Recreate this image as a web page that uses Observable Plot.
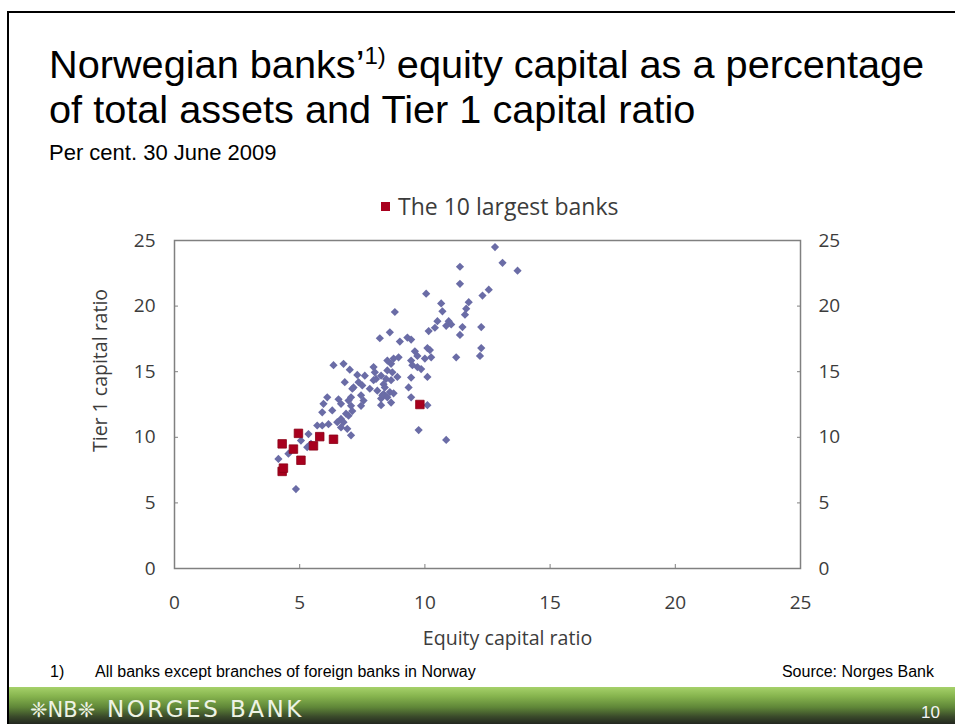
<!DOCTYPE html>
<html>
<head>
<meta charset="utf-8">
<script src="https://cdn.jsdelivr.net/npm/d3@7"></script>
<script src="https://cdn.jsdelivr.net/npm/@observablehq/plot@0.6"></script>
<style>
html, body { margin: 0; padding: 0; background: #fff; }
#page { position: relative; width: 955px; height: 724px; overflow: hidden; background: #fff; font-family: "Liberation Sans", Arial, sans-serif; color: #000; }
.abs { position: absolute; white-space: nowrap; }
#borderL { left: 7px; top: 11px; width: 2px; height: 713px; background: #000; }
#borderT { left: 7px; top: 11px; width: 948px; height: 2px; background: #000; }
#t1, #t2 { left: 49px; font-size: 39.7px; line-height: 39.7px; }
#t1 { top: 44.5px; }
#t2 { top: 89.5px; }
#sub { left: 49px; top: 142px; font-size: 22px; line-height: 22px; }
#legend { left: 381px; top: 193px; font-family: "Open Sans", sans-serif; font-size: 23px; line-height: 26px; color: #3c3c3c; }
#legend .sw { display: inline-block; width: 9px; height: 9px; background: #a8001e; margin-right: 8px; vertical-align: 4px; }
#chart { left: 0px; top: 190px; }
#foot1 { left: 50px; top: 664px; font-size: 16px; line-height: 16px; }
#foot1 span { display: inline-block; width: 45px; }
#source { right: 21px; top: 664px; font-size: 16px; line-height: 16px; }
#band { left: 9px; top: 687px; width: 946px; height: 37px; background: linear-gradient(#a6d16a 0%, #86b44e 25%, #5f8638 55%, #3a4a2a 80%, #23271f 100%); }
#brand { left: 30px; top: 696px; font-family: "DejaVu Sans", sans-serif; font-size: 23px; line-height: 26px; letter-spacing: 2.5px; color: #eef3e4; }
#brand .logo { display: inline-block; width: 77px; letter-spacing: 0; font-size: 21px; }
#pnum { left: 921px; top: 704px; font-size: 17px; line-height: 17px; color: #f4f4f4; }
</style>
</head>
<body>
<div id="page">
  <div class="abs" id="borderT"></div>
  <div class="abs" id="t1">Norwegian banks’<span style="font-size:24px;position:relative;top:-14px;">1)</span> equity capital as a percentage</div>
  <div class="abs" id="t2">of total assets and Tier 1 capital ratio</div>
  <div class="abs" id="sub">Per cent. 30 June 2009</div>
  <div class="abs" id="legend"><span class="sw"></span>The 10 largest banks</div>
  <div class="abs" id="chart"></div>
  <div class="abs" id="foot1"><span>1)</span>All banks except branches of foreign banks in Norway</div>
  <div class="abs" id="source">Source: Norges Bank</div>
  <div class="abs" id="band"></div>
  <div class="abs" id="brand"><span class="logo">❈NB❈</span>NORGES BANK</div>
  <div class="abs" id="pnum">10</div>
  <div class="abs" id="borderL"></div>
</div>
<script>
// Tick values
const xTicks = [0, 5, 10, 15, 20, 25];
const yTicks = [0, 5, 10, 15, 20, 25];
const xLabel = "Equity capital ratio";
const yLabel = "Tier 1 capital ratio";

// Other banks: equity capital ratio (x) and Tier 1 capital ratio (y)
const otherEquity = [12.8, 13.1, 13.7, 11.4, 11.4, 12.55, 12.3, 10.05, 11.75, 10.65,
  11.65, 10.7, 11.6, 8.8, 10.5, 10.95, 11.05, 10.85, 10.4, 10.15,
  11.5, 12.25, 11.4, 8.6, 8.2, 9.0, 9.3, 9.45, 10.1, 10.2,
  12.25, 10.25, 11.25, 12.2, 9.6, 9.7, 10.0, 8.5, 8.75, 8.95,
  9.45, 9.5, 9.7, 9.85, 6.35, 6.75, 7.0, 7.3, 7.6, 7.95,
  8.0, 8.25, 8.5, 8.7, 8.65, 7.95, 8.05, 8.35, 8.45, 8.65,
  8.9, 9.45, 10.1, 6.8, 7.35, 7.15, 7.5, 7.8, 8.1, 8.35,
  8.6, 8.75, 9.35, 7.05, 8.25, 8.5, 8.65, 9.45, 10.1, 8.25,
  7.55, 7.45, 6.95, 7.05, 7.1, 6.55, 6.1, 5.95, 5.9, 6.3,
  6.65, 6.95, 6.75, 6.5, 6.15, 5.9, 5.7, 6.65, 6.9, 7.05,
  5.35, 5.05, 5.45, 5.3, 4.55, 4.15, 4.85, 9.75, 10.85, 8.3,
  8.4, 7.1, 6.65, 6.85, 7.45];
const otherTier1 = [24.5, 23.3, 22.7, 23.0, 21.7, 21.25, 20.8, 20.95, 20.3, 20.2,
  19.8, 19.6, 19.35, 19.55, 18.85, 18.85, 18.6, 18.5, 18.35, 18.1,
  18.4, 18.4, 17.8, 18.0, 17.55, 17.3, 17.6, 17.45, 16.8, 16.65,
  16.8, 16.1, 16.1, 16.2, 16.55, 16.2, 16.0, 15.85, 16.0, 16.1,
  15.85, 15.5, 15.35, 15.2, 15.5, 15.6, 15.15, 14.75, 14.7, 15.35,
  14.95, 14.7, 15.1, 14.95, 15.6, 14.35, 14.45, 14.05, 14.45, 14.35,
  14.6, 14.55, 14.6, 14.2, 14.2, 13.8, 13.95, 13.7, 13.55, 13.3,
  13.45, 13.35, 13.8, 13.05, 12.95, 13.05, 12.65, 13.05, 12.45, 12.45,
  12.8, 12.4, 12.8, 12.4, 12.0, 12.9, 13.05, 12.55, 11.9, 12.05,
  11.4, 11.65, 11.15, 11.15, 11.0, 10.9, 10.9, 10.75, 10.65, 10.15,
  10.25, 9.75, 9.5, 9.25, 8.75, 8.35, 6.05, 10.55, 9.8, 13.2,
  13.8, 13.7, 12.55, 11.8, 13.2];

// The 10 largest banks
const largestEquity = [4.95, 4.3, 4.75, 5.05, 4.3, 4.35, 5.55, 5.8, 6.35, 9.8];
const largestTier1 = [10.3, 9.5, 9.1, 8.25, 7.4, 7.65, 9.35, 10.05, 9.85, 12.5];

const others = otherEquity.map((e, i) => ({equity: e, tier1: otherTier1[i]}));
const largest = largestEquity.map((e, i) => ({equity: e, tier1: largestTier1[i]}));

const chart = Plot.plot({
  width: 955,
  height: 470,
  marginLeft: 174,
  marginRight: 155,
  marginTop: 50,
  marginBottom: 92,
  x: {domain: [0, 25]},
  y: {domain: [0, 25]},
  style: {fontFamily: "'Open Sans', sans-serif", fontSize: "19px", color: "#3c3c3c", background: "transparent", overflow: "visible"},
  marks: [
    Plot.axisX({ticks: xTicks, tickSize: 4, dy: -4, tickFormat: () => "", stroke: "#808080", label: null}),
    Plot.axisX({ticks: xTicks, tickSize: 0, tickPadding: 27, label: null}),
    Plot.axisY({anchor: "left", ticks: yTicks, tickSize: 4, dx: 4, tickFormat: () => "", stroke: "#808080", label: null}),
    Plot.axisY({anchor: "left", ticks: yTicks, tickSize: 0, tickPadding: 19, label: null}),
    Plot.axisY({anchor: "right", ticks: yTicks, tickSize: 4, dx: -4, tickFormat: () => "", stroke: "#808080", label: null}),
    Plot.axisY({anchor: "right", ticks: yTicks, tickSize: 0, tickPadding: 18, label: null}),
    Plot.frame({stroke: "#808080", strokeWidth: 1.5}),
    Plot.text([xLabel], {frameAnchor: "bottom", textAnchor: "middle", lineAnchor: "middle", text: d => d, dx: 20, dy: 70, fontSize: 19.6, fill: "#3c3c3c"}),
    Plot.text([yLabel], {frameAnchor: "left", textAnchor: "middle", lineAnchor: "middle", text: d => d, dx: -74, dy: -34, rotate: -90, fontSize: 19.5, fill: "#3c3c3c"}),
    Plot.dot(others, {x: "equity", y: "tier1", symbol: "diamond2", r: 3.7, fill: "#6a6ca6", stroke: null}),
    Plot.dot(largest, {x: "equity", y: "tier1", symbol: "square", r: 4.8, fill: "#a8001e", stroke: "#8a0016", strokeWidth: 0.8})
  ]
});
document.getElementById("chart").appendChild(chart);
</script>
</body>
</html>
